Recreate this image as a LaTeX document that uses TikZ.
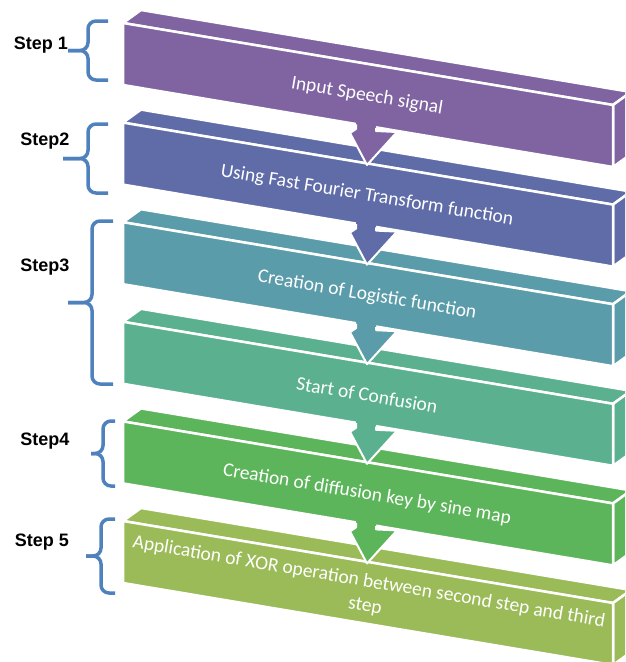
\documentclass[tikz,border=0pt]{standalone}
\usepackage{fontspec}
\setmainfont{Carlito}
\newfontfamily\stepfont{Liberation Sans}
\usepackage{tikz}
\usetikzlibrary{calc}

\definecolor{boxA}{HTML}{8064A2}
\definecolor{boxB}{HTML}{5F6CA8}
\definecolor{boxC}{HTML}{5B9CAA}
\definecolor{boxD}{HTML}{5BB18F}
\definecolor{boxE}{HTML}{5DB55B}
\definecolor{boxF}{HTML}{9BBB59}
\definecolor{braceblue}{HTML}{4F81BD}

\tikzset{
  face/.style={draw=white, line width=2.5pt, line join=round},
  arrowline/.style={draw=white, line width=2pt, line join=round},
  boxtext/.style={text=white, font=\fontsize{19.5}{24}\selectfont, rotate=-9.55, align=center, inner sep=0pt},
  steplabel/.style={font=\stepfont\bfseries\fontsize{18}{20}\selectfont, inner sep=0pt},
  bracepath/.style={draw=braceblue, line width=3.5pt, rounded corners=8pt},
}

% right end x, top y, bottom y, spine x, tip x
\newcommand{\stepbrace}[5]{%
  \draw[bracepath] (#1,#2) -- (#4,#2) -- (#4,{(#2+#3)/2}) -- (#5,{(#2+#3)/2});
  \draw[bracepath] (#5,{(#2+#3)/2}) -- (#4,{(#2+#3)/2}) -- (#4,#3) -- (#1,#3);
}

\begin{document}
\begin{tikzpicture}[x=1pt, y=-1pt]
\useasboundingbox (0,0) rectangle (625,662);
\clip (0,0) rectangle (625,662);

% slanted boxes
\foreach \i/\col/\txt in {0/boxA/{Input Speech signal},
    1/boxB/{Using Fast Fourier Transform function},
    2/boxC/{Creation of Logistic function},
    3/boxD/{Start of Confusion},
    4/boxE/{Creation of diffusion key by sine map},
    5/boxF/{Application of XOR operation between second step and third\\step}} {
  \begin{scope}[shift={(0,99.6*\i)}]
    \filldraw[face, fill=\col] (123,23) -- (141,10) -- (631,92) -- (613,105) -- cycle;
    \filldraw[face, fill=\col] (613,105) -- (631,92) -- (631,154) -- (613,167) -- cycle;
    \filldraw[face, fill=\col] (123,23) -- (613,105) -- (613,167) -- (123,85) -- cycle;
    \node[boxtext] (t\i) at (367,96) {\txt};
  \end{scope}
}

% arrows between boxes
\foreach \i/\col in {0/boxA,1/boxB,2/boxC,3/boxD,4/boxE} {
  \begin{scope}[shift={(0,99.6*\i)}]
    \fill[\col] (356,118) -- (356,129) -- (350,133) -- (367,165) -- (397,132) -- (376,131) -- (376,118) -- cycle;
    \draw[arrowline] (356,124.4) -- (356,129) -- (350,133) -- (367,165) -- (397,132) -- (376,131) -- (376,127.8);
  \end{scope}
}

% steps
\node[steplabel] (s1) at (41,45) {Step 1};
\node[steplabel] (s2) at (45,141) {Step2};
\node[steplabel] (s3) at (45,267) {Step3};
\node[steplabel] (s4) at (45,441) {Step4};
\node[steplabel] (s5) at (42,542) {Step 5};

\stepbrace{108}{21}{80}{88}{68}
\stepbrace{108}{124}{193}{88}{63}
\stepbrace{113}{221}{384}{92}{68}
\stepbrace{115}{421}{486}{103}{91}
\stepbrace{115}{519}{593}{101}{86}
\end{tikzpicture}
\end{document}
